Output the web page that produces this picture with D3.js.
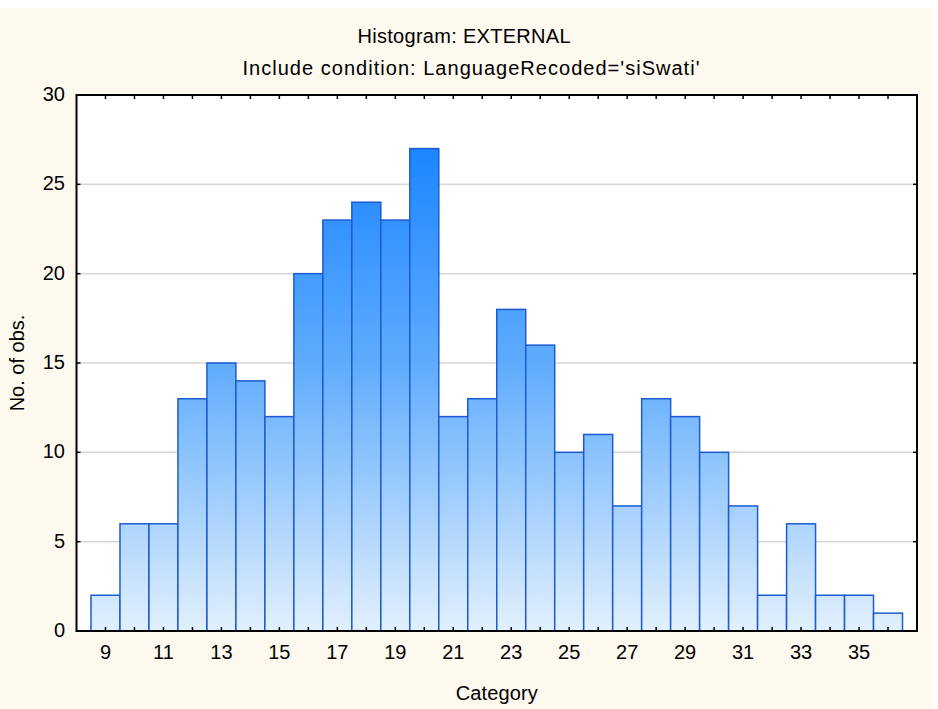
<!DOCTYPE html>
<html><head><meta charset="utf-8">
<script src="https://cdn.jsdelivr.net/npm/d3@7"></script>
<style>body{margin:0;background:#fff}svg{display:block}text{font-family:Arial,"Liberation Sans",sans-serif;fill:#000}</style>
</head><body><svg id="c" width="938" height="709"></svg>
<script>
const categories = [9,10,11,12,13,14,15,16,17,18,19,20,21,22,23,24,25,26,27,28,29,30,31,32,33,34,35,36];
const counts = [2,6,6,13,15,14,12,20,23,24,23,27,12,13,18,16,10,11,7,13,12,10,7,2,6,2,2,1];
const xTickLabels = [9,11,13,15,17,19,21,23,25,27,29,31,33,35];
const yTicks = [0,5,10,15,20,25,30];
const titleLines = ["Histogram: EXTERNAL","Include condition: LanguageRecoded='siSwati'"];

const svg = d3.select("#c");
const L=76.5, R=917, T=95, B=631;
svg.append("rect").attr("x",0).attr("y",8).attr("width",933).attr("height",701).attr("fill","#fdf9ef");
svg.append("rect").attr("x",L).attr("y",T).attr("width",R-L).attr("height",B-T).attr("fill","#fff");

const x = d3.scaleLinear().domain([8,37]).range([L,R]);
const y = d3.scaleLinear().domain([0,30]).range([B,T]);

const defs = svg.append("defs");
const g = defs.append("linearGradient").attr("id","bg").attr("gradientUnits","userSpaceOnUse")
  .attr("x1",0).attr("x2",0).attr("y1",y(27)).attr("y2",y(0));
g.append("stop").attr("offset",0).attr("stop-color","#1c86ff");
g.append("stop").attr("offset",0.45).attr("stop-color","#60acfd");
g.append("stop").attr("offset",1).attr("stop-color","#e2f0fd");

// gridlines
svg.append("g").selectAll("line").data(yTicks.filter(d=>d>0&&d<30)).join("line")
  .attr("x1",L).attr("x2",R).attr("y1",d=>y(d)).attr("y2",d=>y(d))
  .attr("stroke","#d6d6d6").attr("stroke-width",1.5);

// bars
svg.append("g").selectAll("rect").data(categories).join("rect")
  .attr("x",(d)=>x(d-0.5)).attr("width",(d)=>x(d+0.5)-x(d-0.5))
  .attr("y",(d,i)=>y(counts[i])).attr("height",(d,i)=>y(0)-y(counts[i]))
  .attr("fill","url(#bg)").attr("stroke","#1d5bd0").attr("stroke-width",1.5);

// frame
svg.append("rect").attr("x",L).attr("y",T).attr("width",R-L).attr("height",B-T)
  .attr("fill","none").attr("stroke","#000").attr("stroke-width",2);

// x ticks inward
const xt = d3.range(9,37);
svg.append("g").selectAll("line").data(xt).join("line")
  .attr("x1",d=>x(d)).attr("x2",d=>x(d)).attr("y1",B).attr("y2",B-4).attr("stroke","#000").attr("stroke-width",1.5);
svg.append("g").selectAll("line").data(xt).join("line")
  .attr("x1",d=>x(d)).attr("x2",d=>x(d)).attr("y1",T).attr("y2",T+4).attr("stroke","#000").attr("stroke-width",1.5);
// y ticks inward
svg.append("g").selectAll("line").data(yTicks).join("line")
  .attr("x1",L).attr("x2",L+4).attr("y1",d=>y(d)).attr("y2",d=>y(d)).attr("stroke","#000").attr("stroke-width",1.5);
svg.append("g").selectAll("line").data(yTicks).join("line")
  .attr("x1",R-4).attr("x2",R).attr("y1",d=>y(d)).attr("y2",d=>y(d)).attr("stroke","#000").attr("stroke-width",1.5);

const fs = 20;
svg.append("g").selectAll("text").data(xTickLabels).join("text")
  .attr("x",d=>x(d)).attr("y",659).attr("text-anchor","middle").attr("font-size",fs).text(d=>d);
svg.append("g").selectAll("text").data(yTicks).join("text")
  .attr("x",65).attr("y",d=>y(d)+6).attr("text-anchor","end").attr("font-size",fs).text(d=>d);

svg.append("text").attr("x",(L+R)/2).attr("y",700).attr("text-anchor","middle").attr("font-size",fs)
  .attr("textLength",82).text("Category");
svg.append("text").attr("transform","translate(24,363) rotate(-90)").attr("text-anchor","middle").attr("font-size",fs).text("No. of obs.");
svg.append("text").attr("x",464).attr("y",43).attr("text-anchor","middle").attr("font-size",fs)
  .attr("textLength",213).text(titleLines[0]);
svg.append("text").attr("x",471).attr("y",75).attr("text-anchor","middle").attr("font-size",fs)
  .attr("textLength",457).text(titleLines[1]);
</script></body></html>
